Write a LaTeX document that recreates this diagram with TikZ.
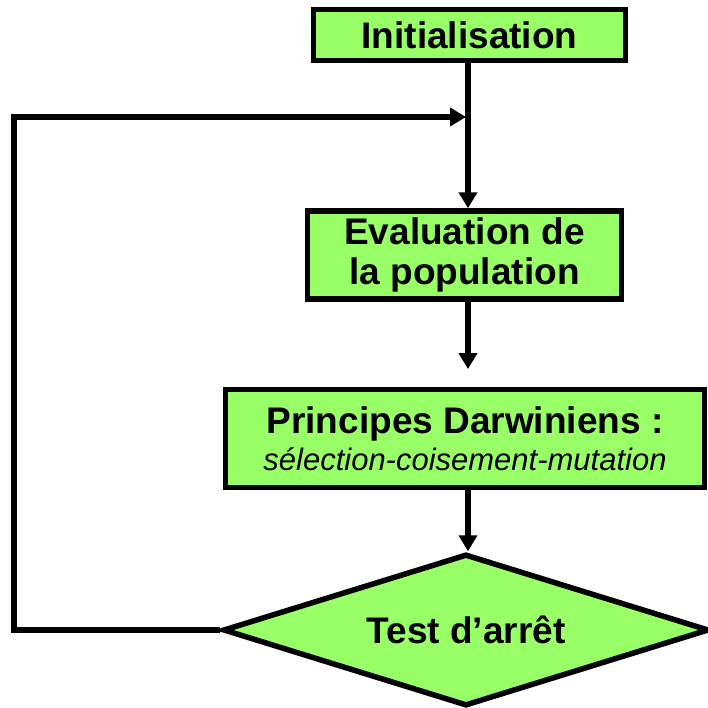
\documentclass[tikz,border=0pt]{standalone}
\usepackage{fontspec}
\setmainfont{Liberation Sans}
\usetikzlibrary{shapes.geometric,arrows.meta}
\definecolor{boxgreen}{HTML}{99FF66}
\begin{document}
\begin{tikzpicture}[x=1pt,y=-1pt,
  box/.style={draw=black, line width=5.5pt, fill=boxgreen, inner sep=0pt, align=center,
    font=\bfseries\fontsize{37}{40}\selectfont},
  conn/.style={line width=5.5pt, draw=black},
  arr/.style={conn, -{Triangle[width=18pt,length=16pt]}}]
\useasboundingbox (0,0) rectangle (708,707);
\node[box, minimum width=312pt, minimum height=51pt] (init) at (469.5,35) {Initialisation};
\node[box, minimum width=314pt, minimum height=88pt] (eval) at (464.5,255) {Evaluation de\\la population};
\node[box, minimum width=479pt, minimum height=98pt] (princ) at (465,438.5)
  {Principes Darwiniens :\\[-3pt]{\mdseries\itshape\fontsize{31}{33}\selectfont sélection-coisement-mutation}};
\node[box, diamond, aspect=3.2, minimum width=486pt, minimum height=152pt] (test) at (466,630) {Test d’arrêt};
\coordinate (spine) at (468,0);
\coordinate (evalout) at (468,369);
\coordinate (lc) at (14,117);
\draw[arr] (init.south -| spine) -- (eval.north -| spine);
\draw[arr] (eval.south -| spine) -- (evalout);
\draw[arr] (princ.south -| spine) -- (test.north -| spine);
\draw[arr, shorten >=2pt] (test.west) -| (lc) -- (lc -| spine);
\end{tikzpicture}
\end{document}
